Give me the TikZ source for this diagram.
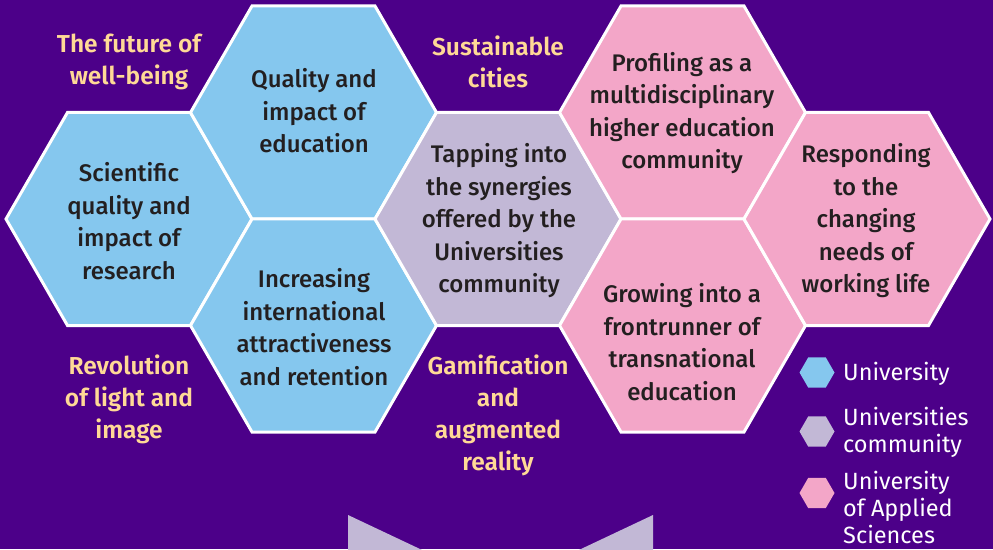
\documentclass[tikz,border=0pt]{standalone}
\usepackage{fontspec}
\setmainfont{Fira Sans}
\newfontfamily\hexfont{Fira Sans Medium}
\newfontfamily\labfont{Fira Sans SemiBold}
\newfontfamily\legfont{Fira Sans}
\usetikzlibrary{shapes.geometric}
\definecolor{bgpurple}{RGB}{76,0,137}
\definecolor{hblue}{RGB}{133,199,238}
\definecolor{hlav}{RGB}{194,184,214}
\definecolor{hpink}{RGB}{243,166,200}
\definecolor{labyellow}{RGB}{255,217,150}
\definecolor{darktext}{RGB}{35,31,32}
\begin{document}
\begin{tikzpicture}[x=1pt,y=-1pt,
  hexa/.style={regular polygon, regular polygon sides=6, minimum size=246pt,
    inner sep=0pt, outer sep=0pt, draw=white, line width=3pt, line join=miter},
  keyhex/.style={regular polygon, regular polygon sides=6, minimum size=35pt,
    inner sep=0pt, outer sep=0pt},
  hextext/.style={align=center, text=darktext, inner sep=0pt,
    font=\hexfont\fontsize{24}{32.5}\selectfont},
  labtext/.style={align=center, text=labyellow, inner sep=0pt,
    font=\labfont\fontsize{24.5}{32}\selectfont},
  legtext/.style={align=left, text=white, anchor=west, inner sep=0pt,
    font=\legfont\fontsize{23.5}{27}\selectfont}]
\fill[bgpurple] (0,0) rectangle (993,549);
\useasboundingbox (0,0) rectangle (993,549);
\clip (0,0) rectangle (993,549);
% bottom chevron
\fill[hlav] (348,515) -- (500.5,587) -- (653,515) -- (653,600) -- (348,600) -- cycle;
% hexagons
\node[hexa, fill=hblue] (hS) at (129,219) {};
\node[hexa, fill=hblue] (hQ) at (313.5,112.5) {};
\node[hexa, fill=hblue] (hI) at (313.5,325.5) {};
\node[hexa, fill=hlav]  (hT) at (498,219) {};
\node[hexa, fill=hpink] (hP) at (682.5,112.5) {};
\node[hexa, fill=hpink] (hG) at (682.5,325.5) {};
\node[hexa, fill=hpink] (hR) at (867,219) {};
% hexagon texts
\node[hextext] (tS) at (129,221) {Scientific\\quality and\\impact of\\research};
\node[hextext] (tQ) at (314,111) {Quality and\\impact of\\education};
\node[hextext] (tI) at (314,327) {Increasing\\international\\attractiveness\\and retention};
\node[hextext] (tT) at (499,221) {Tapping into\\the synergies\\offered by the\\Universities\\community};
\node[hextext] (tP) at (682,113) {Profiling as a\\multidisciplinary\\higher education\\community};
\node[hextext] (tG) at (682,342) {Growing into a\\frontrunner of\\transnational\\education};
\node[hextext] (tR) at (866,221) {Responding\\to the\\changing\\needs of\\working life};
% yellow labels
\node[labtext] (lF) at (129,62) {The future of\\well-being};
\node[labtext] (lC) at (498,62) {Sustainable\\cities};
\node[labtext] (lL) at (129,399) {Revolution\\of light and\\image};
\node[labtext] (lA) at (498,415) {Gamification\\and\\augmented\\reality};
% legend
\node[keyhex, fill=hblue] (kU) at (817,372.5) {};
\node[keyhex, fill=hlav]  (kC) at (817,431.5) {};
\node[keyhex, fill=hpink] (kA) at (817,493) {};
\node[legtext] (gU) at (843,374) {University};
\node[legtext] (gC) at (843,432) {Universities\\community};
\node[legtext] (gA) at (843,507.5) {University\\of Applied\\Sciences};
\end{tikzpicture}
\end{document}
